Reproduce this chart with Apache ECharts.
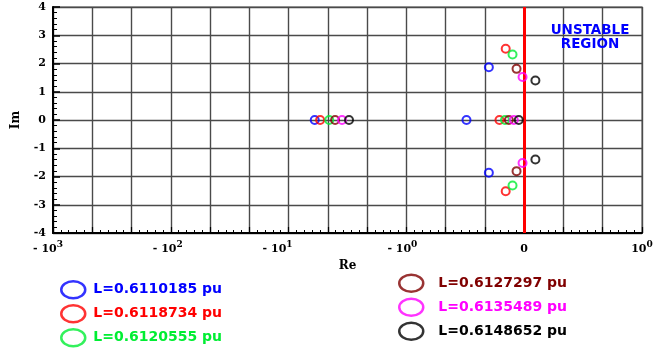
<!DOCTYPE html>
<html>
<head>
<meta charset="utf-8">
<script src="https://cdn.jsdelivr.net/npm/echarts@6/dist/echarts.min.js"></script>
<style>html,body{margin:0;padding:0;background:#fff}#c{width:667px;height:351px}</style>
</head>
<body>
<div id="c"></div>
<script>
// ---- data ----
const seriesNames = ['L=0.6110185 pu', 'L=0.6118734 pu', 'L=0.6120555 pu',
                     'L=0.6127297 pu', 'L=0.6135489 pu', 'L=0.6148652 pu'];
const seriesColors = ['#0000ff', '#ff0000', '#00ee33', '#800000', '#ff00ff', '#000000'];
// real and imaginary parts of the eigenvalues for each L
const reBlue    = [-6.00, -0.49, -0.300, -0.300];
const imBlue    = [ 0.00,  0.00,  1.87,  -1.87];
const reRed     = [-5.40, -0.21, -0.157, -0.157];
const imRed     = [ 0.00,  0.00,  2.52,  -2.52];
const reGreen   = [-4.52, -0.163, -0.099, -0.099];
const imGreen   = [ 0.00,  0.00,  2.32,  -2.32];
const reDarkRed = [-4.03, -0.13, -0.065, -0.065];
const imDarkRed = [ 0.00,  0.00,  1.81,  -1.81];
const reMagenta = [-3.52, -0.088, -0.014, -0.014];
const imMagenta = [ 0.00,  0.00,  1.52,  -1.52];
const reBlack   = [-3.07, -0.046, 0.095, 0.095];
const imBlack   = [ 0.00,  0.00,  1.40,  -1.40];
const reAll = [reBlue, reRed, reGreen, reDarkRed, reMagenta, reBlack];
const imAll = [imBlue, imRed, imGreen, imDarkRed, imMagenta, imBlack];
// x tick labels (symmetric log axis)
const xTickValues = [-1000, -100, -10, -1, 0, 1];
const xTickBase   = ['- 10', '- 10', '- 10', '- 10', '0', '10'];
const xTickExp    = ['3', '2', '1', '0', '', '0'];
const xTickShift  = [5, 3, 11, 4, 0, 0];

// symmetric log transform (linear between -1 and 1), 3 axis units per decade
function symlog(x) {
  const a = Math.abs(x);
  const u = a <= 1 ? x : Math.sign(x) * (1 + Math.log10(a));
  return 3 * u;
}

const labelMap = {};
xTickValues.forEach((v, i) => {
  const key = Math.round(symlog(v));
  let s = '{a|' + xTickBase[i] + '}';
  if (xTickExp[i]) {
    s += xTickShift[i] ? '{s' + i + '|' + xTickExp[i] + '}' : '{s|' + xTickExp[i] + '}';
  }
  labelMap[key] = s;
});

const rich = {
  a: {fontFamily: 'DejaVu Serif', fontWeight: 'bold', fontSize: 11, color: '#000', lineHeight: 15, verticalAlign: 'bottom'},
  s: {fontFamily: 'DejaVu Serif', fontWeight: 'bold', fontSize: 9, color: '#000', lineHeight: 15, verticalAlign: 'top'}
};
xTickShift.forEach((d, i) => {
  if (d) rich['s' + i] = Object.assign({}, rich.s, {padding: [0, 2 * d, 0, 0]});
});

const legendIcon = 'path://M0,10a10,10 0 1,0 20,0a10,10 0 1,0 -20,0z';

const series = seriesNames.map((name, k) => {
  const s = {
    name: name,
    type: 'scatter',
    symbol: 'circle',
    symbolSize: 8,
    itemStyle: {color: 'rgba(0,0,0,0)', borderColor: seriesColors[k], borderWidth: 2},
    data: reAll[k].map((r, j) => [symlog(r), imAll[k][j]]),
    z: 5
  };
  if (k === 0) {
    s.markLine = {
      silent: true,
      symbol: ['none', 'none'],
      label: {show: false},
      lineStyle: {color: '#ff0000', width: 3, type: 'solid'},
      data: [{xAxis: symlog(0)}],
      z: 4
    };
  }
  return s;
});

function legendData(idx) {
  return idx.map(i => ({name: seriesNames[i], textStyle: {color: seriesColors[i]}}));
}
function makeLegend(left, top, idx, gap) {
  return {
    orient: 'vertical',
    left: left, top: top,
    padding: 0,
    height: 80,
    itemWidth: 24,
    itemHeight: 17,
    itemGap: 4.5,
    icon: legendIcon,
    symbolKeepAspect: false,
    selectedMode: false,
    itemStyle: {color: 'rgba(0,0,0,0)', borderWidth: 2.5},
    textStyle: {fontFamily: 'DejaVu Sans', fontWeight: 'bold', fontSize: 14, lineHeight: 17, padding: [0, 0, 0, gap]},
    data: legendData(idx)
  };
}

const chart = echarts.init(document.getElementById('c'));
chart.setOption({
  animation: false,
  backgroundColor: '#fff',
  grid: {left: 53, right: 25, top: 7, bottom: 118, show: true, borderColor: '#8a8a8a', borderWidth: 1.5},
  xAxis: {
    type: 'value', min: -12, max: 3, interval: 1,
    name: 'Re', nameLocation: 'middle', nameGap: 21,
    nameTextStyle: {fontFamily: 'DejaVu Serif', fontWeight: 'bold', fontSize: 12, color: '#000'},
    axisLine: {onZero: false, lineStyle: {color: '#000', width: 2}},
    axisTick: {inside: true, length: 6, lineStyle: {color: '#000', width: 1.2}},
    minorTick: {show: true, splitNumber: 5, length: 3, lineStyle: {color: '#000', width: 1}},
    splitLine: {show: true, lineStyle: {color: '#4a4a4a', width: 1.4}},
    axisLabel: {
      margin: 7,
      formatter: function (v) { const k = Math.round(v); return labelMap[k] !== undefined ? labelMap[k] : ''; },
      rich: rich
    }
  },
  yAxis: {
    type: 'value', min: -4, max: 4, interval: 1,
    name: 'Im', nameLocation: 'middle', nameGap: 31,
    nameTextStyle: {fontFamily: 'DejaVu Serif', fontWeight: 'bold', fontSize: 12, color: '#000'},
    axisLine: {onZero: false, lineStyle: {color: '#000', width: 2}},
    axisTick: {inside: true, length: 7, lineStyle: {color: '#000', width: 1.5}},
    minorTick: {show: true, splitNumber: 5, length: 4, lineStyle: {color: '#000', width: 1}},
    splitLine: {show: true, lineStyle: {color: '#4a4a4a', width: 1.4}},
    axisLabel: {margin: 7, fontFamily: 'DejaVu Serif', fontWeight: 'bold', fontSize: 11, color: '#000'}
  },
  legend: [
    makeLegend(60, 280, [0, 1, 2], 3),
    makeLegend(398, 273.5, [3, 4, 5], 10)
  ],
  graphic: [{
    type: 'text', x: 590, y: 23, z: 10,
    style: {text: 'UNSTABLE\nREGION', align: 'center', textAlign: 'center', font: 'bold 13.5px "DejaVu Sans"', fill: '#0000ff', lineHeight: 14}
  }],
  series: series
});
</script>
</body>
</html>
